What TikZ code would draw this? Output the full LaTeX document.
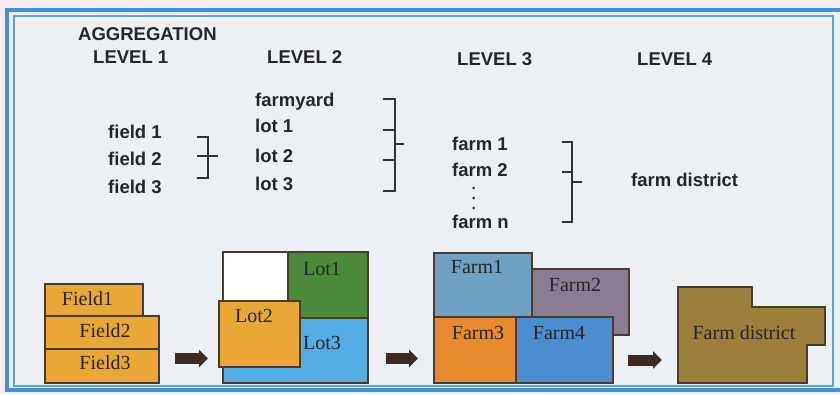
\documentclass[tikz,border=0pt]{standalone}
\usepackage{fontspec}
\setmainfont{Liberation Serif}
\setsansfont{Liberation Sans}
\usetikzlibrary{arrows.meta}
\definecolor{pagebg}{HTML}{F5EDF1}
\definecolor{panel}{HTML}{ECEFF4}
\definecolor{frameblue}{HTML}{3D93D8}
\definecolor{thinblue}{HTML}{5AA2E0}
\definecolor{edge}{HTML}{4A3A30}
\definecolor{fieldorange}{HTML}{E9A836}
\definecolor{lotgreen}{HTML}{4A8B3A}
\definecolor{lotblue}{HTML}{55ADE5}
\definecolor{farmA}{HTML}{6DA2C4}
\definecolor{farmB}{HTML}{8B7B93}
\definecolor{farmC}{HTML}{E88A2E}
\definecolor{farmD}{HTML}{4A8DD0}
\definecolor{district}{HTML}{9B7F3A}
\definecolor{arrowbrown}{HTML}{3B2B22}
\tikzset{
	lvl/.style={anchor=base west,inner sep=0pt,text=black!85,font=\sffamily\bfseries\fontsize{18.5}{20}\selectfont},
	lbl/.style={inner sep=0pt,text=black!85,font=\fontsize{20}{22}\selectfont},
	brk/.style={line width=1.4pt,black!80},
	part/.style={draw=edge,line width=1.2pt},
	bigarrow/.style={line width=11pt,arrowbrown,-{Triangle[length=9pt,width=17pt]}}
}
\begin{document}
\begin{tikzpicture}[x=1pt,y=-1pt]
	\useasboundingbox (0,0) rectangle (840,394);
	\fill[pagebg] (0,0) rectangle (840,394);
	\filldraw[panel,draw=frameblue,line width=4pt] (7,10) rectangle (845,390);
	\draw[thinblue,line width=1.5pt] (14,16) rectangle (833,386);
	\node[lvl] (agg) at (78,40.5) {AGGREGATION};
	\node[lvl] (lev1) at (93,63) {LEVEL 1};
	\node[lvl] (lev2) at (267,63) {LEVEL 2};
	\node[lvl] (lev3) at (457,65) {LEVEL 3};
	\node[lvl] (lev4) at (637,65) {LEVEL 4};
	\node[lvl] (f1) at (108,138) {field 1};
	\node[lvl] (f2) at (108,165) {field 2};
	\node[lvl] (f3) at (108,193) {field 3};
	\node[lvl] (fy) at (255,106) {farmyard};
	\node[lvl] (l1) at (255,132) {lot 1};
	\node[lvl] (l2) at (255,162) {lot 2};
	\node[lvl] (l3) at (255,190.5) {lot 3};
	\node[lvl] (fm1) at (452,150) {farm 1};
	\node[lvl] (fm2) at (452,176.5) {farm 2};
	\node[lvl] (fmn) at (452,228) {farm n};
	\node[lvl] (fd) at (631,186.5) {farm district};
	\fill[black!80] (473.5,188) circle (1.5) (473.5,198) circle (1.5) (473.5,208) circle (1.5);
	\coordinate (b1t) at (197,137);
	\coordinate (b1b) at (197,178);
	\coordinate (b1m) at (197,156);
	\coordinate (b1o) at (218,156);
	\draw[brk] (b1t) -| (b1b -| 208,0) -- (b1b);
	\draw[brk] (b1m) -- (b1o);
	\coordinate (b2t) at (383,99);
	\coordinate (b2b) at (383,191);
	\coordinate (b2o) at (404,144);
	\draw[brk] (b2t) -| (395,191) -- (b2b);
	\draw[brk] (383,130) -- (395,130) (383,160) -- (395,160);
	\draw[brk] (395,144) -- (b2o);
	\coordinate (b3t) at (562,142);
	\coordinate (b3b) at (562,222);
	\coordinate (b3o) at (582,182);
	\draw[brk] (b3t) -| (572,222) -- (b3b);
	\draw[brk] (562,172) -- (572,172);
	\draw[brk] (572,182) -- (b3o);
	\filldraw[part,fill=fieldorange] (45,284) rectangle (143,316);
	\filldraw[part,fill=fieldorange] (45,316) rectangle (159,349);
	\filldraw[part,fill=fieldorange] (45,349) rectangle (159,383);
	\node[lbl] (fl1) at (87.5,299) {Field1};
	\node[lbl] (fl2) at (105,331) {Field2};
	\node[lbl] (fl3) at (105,363) {Field3};
	\filldraw[part,fill=white] (223,252) rectangle (288,318);
	\filldraw[part,fill=lotgreen] (288,252) rectangle (368,318);
	\filldraw[part,fill=lotblue] (223,318) rectangle (368,383);
	\filldraw[part,fill=fieldorange] (219,301) rectangle (300,367);
	\node[lbl] (lt1) at (322,269) {Lot1};
	\node[lbl] (lt2) at (254,316) {Lot2};
	\node[lbl] (lt3) at (322,343) {Lot3};
	\filldraw[part,fill=farmB] (532,269) rectangle (629,335);
	\filldraw[part,fill=farmA] (434,253) rectangle (532,317);
	\filldraw[part,fill=farmC] (434,317) rectangle (516,383);
	\filldraw[part,fill=farmD] (516,317) rectangle (613,383);
	\node[lbl] (fa1) at (477,267) {Farm1};
	\node[lbl] (fa2) at (575,285) {Farm2};
	\node[lbl] (fa3) at (478,333) {Farm3};
	\node[lbl] (fa4) at (559,333) {Farm4};
	\filldraw[part,fill=district] (678,287) -- (752,287) -- (752,307) -- (825,307) -- (825,345) -- (807,345) -- (807,383) -- (678,383) -- cycle;
	\node[lbl] (fdl) at (744,333) {Farm district};
	\coordinate (a1s) at (175,358.5);
	\coordinate (a1e) at (208,358.5);
	\coordinate (a2s) at (386,358.5);
	\coordinate (a2e) at (418,358.5);
	\coordinate (a3s) at (628,360);
	\coordinate (a3e) at (662,360);
	\draw[bigarrow] (a1s) -- (a1e);
	\draw[bigarrow] (a2s) -- (a2e);
	\draw[bigarrow] (a3s) -- (a3e);
\end{tikzpicture}
\end{document}
